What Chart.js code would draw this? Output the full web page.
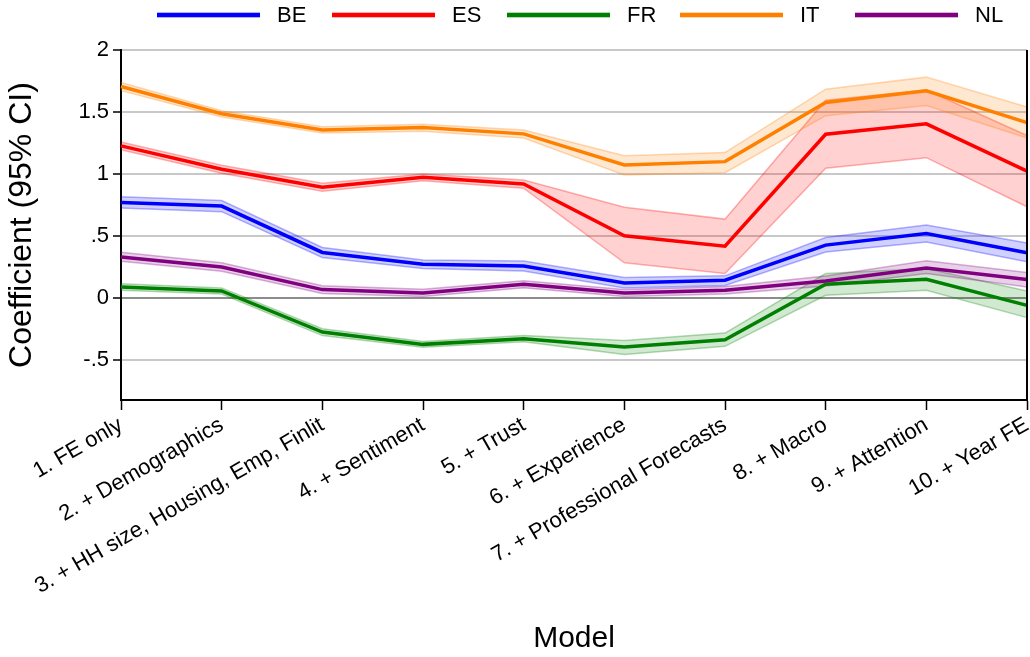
<!DOCTYPE html>
<html>
<head>
<meta charset="utf-8">
<script src="https://cdn.jsdelivr.net/npm/chart.js@4.4.1/dist/chart.umd.min.js"></script>
<style>
  html, body { margin: 0; padding: 0; background: #fff; }
  #wrap { width: 1030px; height: 657px; }
</style>
</head>
<body>
<div id="wrap"><canvas id="chart" width="1030" height="657"></canvas></div>
<script>
// Model specifications along the x axis
const categories = [
  '1. FE only',
  '2. + Demographics',
  '3. + HH size, Housing, Emp, Finlit',
  '4. + Sentiment',
  '5. + Trust',
  '6. + Experience',
  '7. + Professional Forecasts',
  '8. + Macro',
  '9. + Attention',
  '10. + Year FE'
];

const countries = ['BE', 'ES', 'FR', 'IT', 'NL'];

// Point estimates and 95% confidence bounds per country
const coefBE = [0.770, 0.740, 0.366, 0.271, 0.257, 0.120, 0.142, 0.425, 0.519, 0.363];
const loBE   = [0.725, 0.695, 0.326, 0.236, 0.217, 0.079, 0.100, 0.370, 0.451, 0.290];
const hiBE   = [0.815, 0.785, 0.406, 0.306, 0.297, 0.163, 0.177, 0.487, 0.587, 0.443];

const coefES = [1.226, 1.037, 0.892, 0.972, 0.918, 0.500, 0.417, 1.320, 1.404, 1.023];
const loES   = [1.195, 1.005, 0.860, 0.945, 0.885, 0.282, 0.196, 1.045, 1.131, 0.735];
const hiES   = [1.257, 1.070, 0.925, 1.000, 0.950, 0.730, 0.635, 1.595, 1.677, 1.310];

const coefFR = [0.087, 0.055, -0.277, -0.376, -0.330, -0.398, -0.338, 0.109, 0.150, -0.061];
const loFR   = [0.060, 0.030, -0.305, -0.400, -0.355, -0.457, -0.392, 0.020, 0.061, -0.160];
const hiFR   = [0.114, 0.080, -0.250, -0.352, -0.305, -0.344, -0.285, 0.196, 0.236, 0.055];

const coefIT = [1.705, 1.485, 1.355, 1.374, 1.323, 1.072, 1.099, 1.576, 1.671, 1.414];
const loIT   = [1.672, 1.460, 1.330, 1.345, 1.290, 0.991, 1.010, 1.470, 1.552, 1.290];
const hiIT   = [1.738, 1.510, 1.380, 1.400, 1.355, 1.147, 1.172, 1.684, 1.781, 1.540];

const coefNL = [0.330, 0.249, 0.066, 0.039, 0.109, 0.039, 0.061, 0.136, 0.241, 0.147];
const loNL   = [0.295, 0.215, 0.035, 0.010, 0.080, 0.011, 0.030, 0.096, 0.196, 0.087];
const hiNL   = [0.368, 0.283, 0.097, 0.068, 0.138, 0.067, 0.092, 0.176, 0.298, 0.204];

// Y axis ticks and their printed labels
const yTickValues = [-0.5, 0, 0.5, 1, 1.5, 2];
const yTickLabels = ['-.5', '0', '.5', '1', '1.5', '2'];

const coefs = { BE: coefBE, ES: coefES, FR: coefFR, IT: coefIT, NL: coefNL };
const lows  = { BE: loBE,   ES: loES,   FR: loFR,   IT: loIT,   NL: loNL };
const highs = { BE: hiBE,   ES: hiES,   FR: hiFR,   IT: hiIT,   NL: hiNL };

const rgb = {
  BE: [0, 0, 255],
  ES: [255, 0, 0],
  FR: [0, 128, 0],
  IT: [255, 128, 0],
  NL: [128, 0, 128]
};
const rgba = (c, a) => `rgba(${c[0]},${c[1]},${c[2]},${a})`;

const FONT = '"Liberation Sans", Arial, Helvetica, sans-serif';

const datasets = [];
// Confidence bands first (drawn underneath)
countries.forEach((k, i) => {
  datasets.push({
    label: k + ' upper',
    data: highs[k],
    borderColor: rgba(rgb[k], 0.3),
    borderWidth: 1.5,
    pointRadius: 0,
    fill: false,
    tension: 0,
    order: 20 - i
  });
  datasets.push({
    label: k + ' lower',
    data: lows[k],
    borderColor: rgba(rgb[k], 0.3),
    backgroundColor: rgba(rgb[k], 0.18),
    borderWidth: 1.5,
    pointRadius: 0,
    fill: '-1',
    tension: 0,
    order: 20 - i
  });
});
// Point-estimate lines on top
countries.forEach((k, i) => {
  datasets.push({
    label: k,
    data: coefs[k],
    borderColor: rgba(rgb[k], 1),
    borderWidth: 3.5,
    pointRadius: 0,
    fill: false,
    tension: 0,
    order: 5 - i
  });
});

// Legend row drawn as fixed columns above the plot
const countryLegend = {
  id: 'countryLegend',
  afterDraw(chart) {
    const c = chart.ctx;
    const starts = [157, 332, 507, 680, 855];
    c.save();
    c.font = '22px ' + FONT;
    c.textBaseline = 'middle';
    c.fillStyle = '#000';
    countries.forEach((k, i) => {
      const x = starts[i];
      const y = 15;
      c.fillStyle = rgba(rgb[k], 0.3);
      c.fillRect(x, y - 3, 103, 6);
      c.fillStyle = rgba(rgb[k], 1);
      c.fillRect(x, y - 2, 103, 4);
      c.fillStyle = '#000';
      c.fillText(k, x + 120, y + 1);
    });
    c.restore();
  }
};

// Right-hand frame line of the plot region
const rightFrame = {
  id: 'rightFrame',
  afterDraw(chart) {
    const { ctx, chartArea } = chart;
    ctx.save();
    ctx.strokeStyle = '#000';
    ctx.lineWidth = 2;
    ctx.beginPath();
    ctx.moveTo(chartArea.right, chartArea.top);
    ctx.lineTo(chartArea.right, chartArea.bottom + 1);
    ctx.stroke();
    ctx.restore();
  }
};

new Chart(document.getElementById('chart'), {
  type: 'line',
  data: { labels: categories, datasets },
  plugins: [countryLegend, rightFrame],
  options: {
    responsive: false,
    devicePixelRatio: 1,
    animation: false,
    layout: { padding: { top: 50, right: 3, left: 0, bottom: 0 } },
    plugins: {
      legend: { display: false },
      tooltip: { enabled: false },
      filler: { propagate: false }
    },
    scales: {
      x: {
        type: 'category',
        offset: false,
        grid: {
          drawOnChartArea: false,
          drawTicks: true,
          tickLength: 10,
          tickColor: '#000',
          tickWidth: 1.5
        },
        border: { color: '#000', width: 2 },
        ticks: {
          autoSkip: false,
          minRotation: 30,
          maxRotation: 30,
          padding: 2,
          color: '#000',
          font: { family: FONT, size: 22 }
        },
        title: {
          display: true,
          text: 'Model',
          color: '#000',
          font: { family: FONT, size: 30 },
          padding: { top: 0, bottom: 0 }
        },
        afterFit(scale) {
          scale.height = 257;
          scale.paddingLeft = 0;
          scale.paddingRight = 0;
        }
      },
      y: {
        type: 'linear',
        min: -0.825,
        max: 2,
        afterBuildTicks(scale) {
          scale.ticks = yTickValues.map(v => ({ value: v }));
        },
        grid: {
          color: ctx => (ctx.tick && ctx.tick.value === 0) ? '#8c8c8c' : '#c8c8c8',
          lineWidth: 2,
          drawTicks: true,
          tickLength: 8,
          tickColor: '#000',
          tickWidth: 1.5
        },
        border: { color: '#000', width: 2 },
        ticks: {
          padding: 4,
          color: '#000',
          font: { family: FONT, size: 22 },
          callback: v => {
            const i = yTickValues.indexOf(v);
            return i >= 0 ? yTickLabels[i] : '';
          }
        },
        title: {
          display: true,
          text: 'Coefficient (95% CI)',
          color: '#000',
          font: { family: FONT, size: 32 },
          padding: { top: 3, bottom: 0 }
        },
        afterFit(scale) {
          scale.width = 121;
          scale.paddingTop = 0;
          scale.paddingBottom = 0;
        }
      }
    }
  }
});
</script>
</body>
</html>
